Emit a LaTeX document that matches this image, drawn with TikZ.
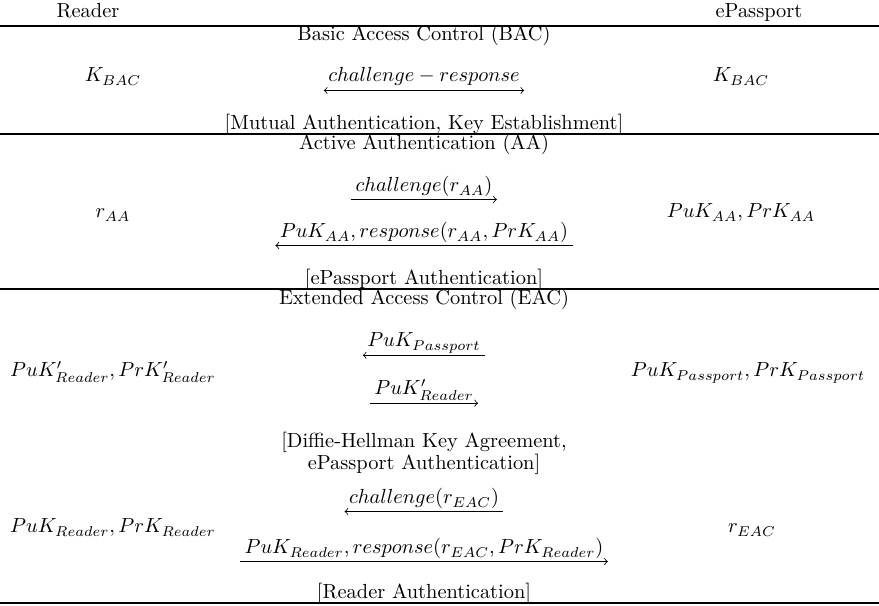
\documentclass[tikz,border=0pt]{standalone}
\begin{document}
\begin{tikzpicture}[x=0.49pt,y=-0.49pt,
  txt/.style={inner sep=0pt, anchor=base},
  msg/.style={inner sep=0pt, anchor=base},
  rule/.style={line width=0.55pt},
  arr/.style={line width=0.4pt, to-to},
  rarr/.style={line width=0.4pt, -to},
  larr/.style={line width=0.4pt, to-}]
\useasboundingbox (0,0) rectangle (879,606);

% parties
\node[txt] (rd) at (88,18) {Reader};
\node[txt] (pp) at (759,18) {ePassport};
\coordinate (h0l) at (0,26); \coordinate (h0r) at (879,26);
\draw[rule] (h0l) -- (h0r);

% Basic Access Control
\node[txt] (bac) at (424,41) {Basic Access Control (BAC)};
\node[txt] (kl) at (113,82) {$K_{BAC}$};
\node[txt] (kr) at (741,82) {$K_{BAC}$};
\node[msg] (m1) at (424,82) {$challenge - response$};
\draw[arr] ([xshift=-2,yshift=-2]m1.south west) -- ([xshift=2,yshift=-2]m1.south east);
\node[txt] (bacres) at (424,130) {[Mutual Authentication, Key Establishment]};
\coordinate (h1l) at (0,134); \coordinate (h1r) at (879,134);
\draw[rule] (h1l) -- (h1r);

% Active Authentication
\node[txt] (aa) at (424,150) {Active Authentication (AA)};
\node[txt] (ral) at (113,218) {$r_{AA}$};
\node[txt] (kaa) at (741,218) {$PuK_{AA}, PrK_{AA}$};
\node[msg] (m2) at (424,192) {$challenge(r_{AA})$};
\draw[rarr] ([xshift=-2,yshift=-1]m2.south west) -- ([xshift=2,yshift=-1]m2.south east);
\node[msg] (m3) at (424,238) {$PuK_{AA}, response(r_{AA}, PrK_{AA})$};
\draw[larr] ([xshift=-2,yshift=-1]m3.south west) -- ([xshift=2,yshift=-1]m3.south east);
\node[txt] (aares) at (424,285) {[ePassport Authentication]};
\coordinate (h2l) at (0,289); \coordinate (h2r) at (879,289);
\draw[rule] (h2l) -- (h2r);

% Extended Access Control
\node[txt] (eac) at (424,305) {Extended Access Control (EAC)};
\node[txt] (kel) at (113,377) {$PuK'_{Reader}, PrK'_{Reader}$};
\node[txt] (ker) at (748,377) {$PuK_{Passport}, PrK_{Passport}$};
\node[msg] (m4) at (424,347) {$PuK_{Passport}$};
\draw[larr] ([xshift=-2,yshift=-1]m4.south west) -- ([xshift=2,yshift=-1]m4.south east);
\node[msg] (m5) at (424,395) {$PuK'_{Reader}$};
\draw[rarr] ([xshift=-2,yshift=-1]m5.south west) -- ([xshift=2,yshift=-1]m5.south east);
\node[txt] (dh1) at (424,448) {[Diffie-Hellman Key Agreement,};
\node[txt] (dh2) at (424,470) {ePassport Authentication]};

\node[txt] (krl) at (113,533) {$PuK_{Reader}, PrK_{Reader}$};
\node[txt] (rer) at (752,533) {$r_{EAC}$};
\node[msg] (m6) at (424,504) {$challenge(r_{EAC})$};
\draw[larr] ([xshift=-2,yshift=-1]m6.south west) -- ([xshift=2,yshift=-1]m6.south east);
\node[msg] (m7) at (424,554) {$PuK_{Reader}, response(r_{EAC}, PrK_{Reader})$};
\draw[rarr] ([xshift=-2,yshift=-1]m7.south west) -- ([xshift=2,yshift=-1]m7.south east);
\node[txt] (eacres) at (424,599) {[Reader Authentication]};
\coordinate (h3l) at (0,603); \coordinate (h3r) at (879,603);
\draw[rule] (h3l) -- (h3r);
\end{tikzpicture}
\end{document}
